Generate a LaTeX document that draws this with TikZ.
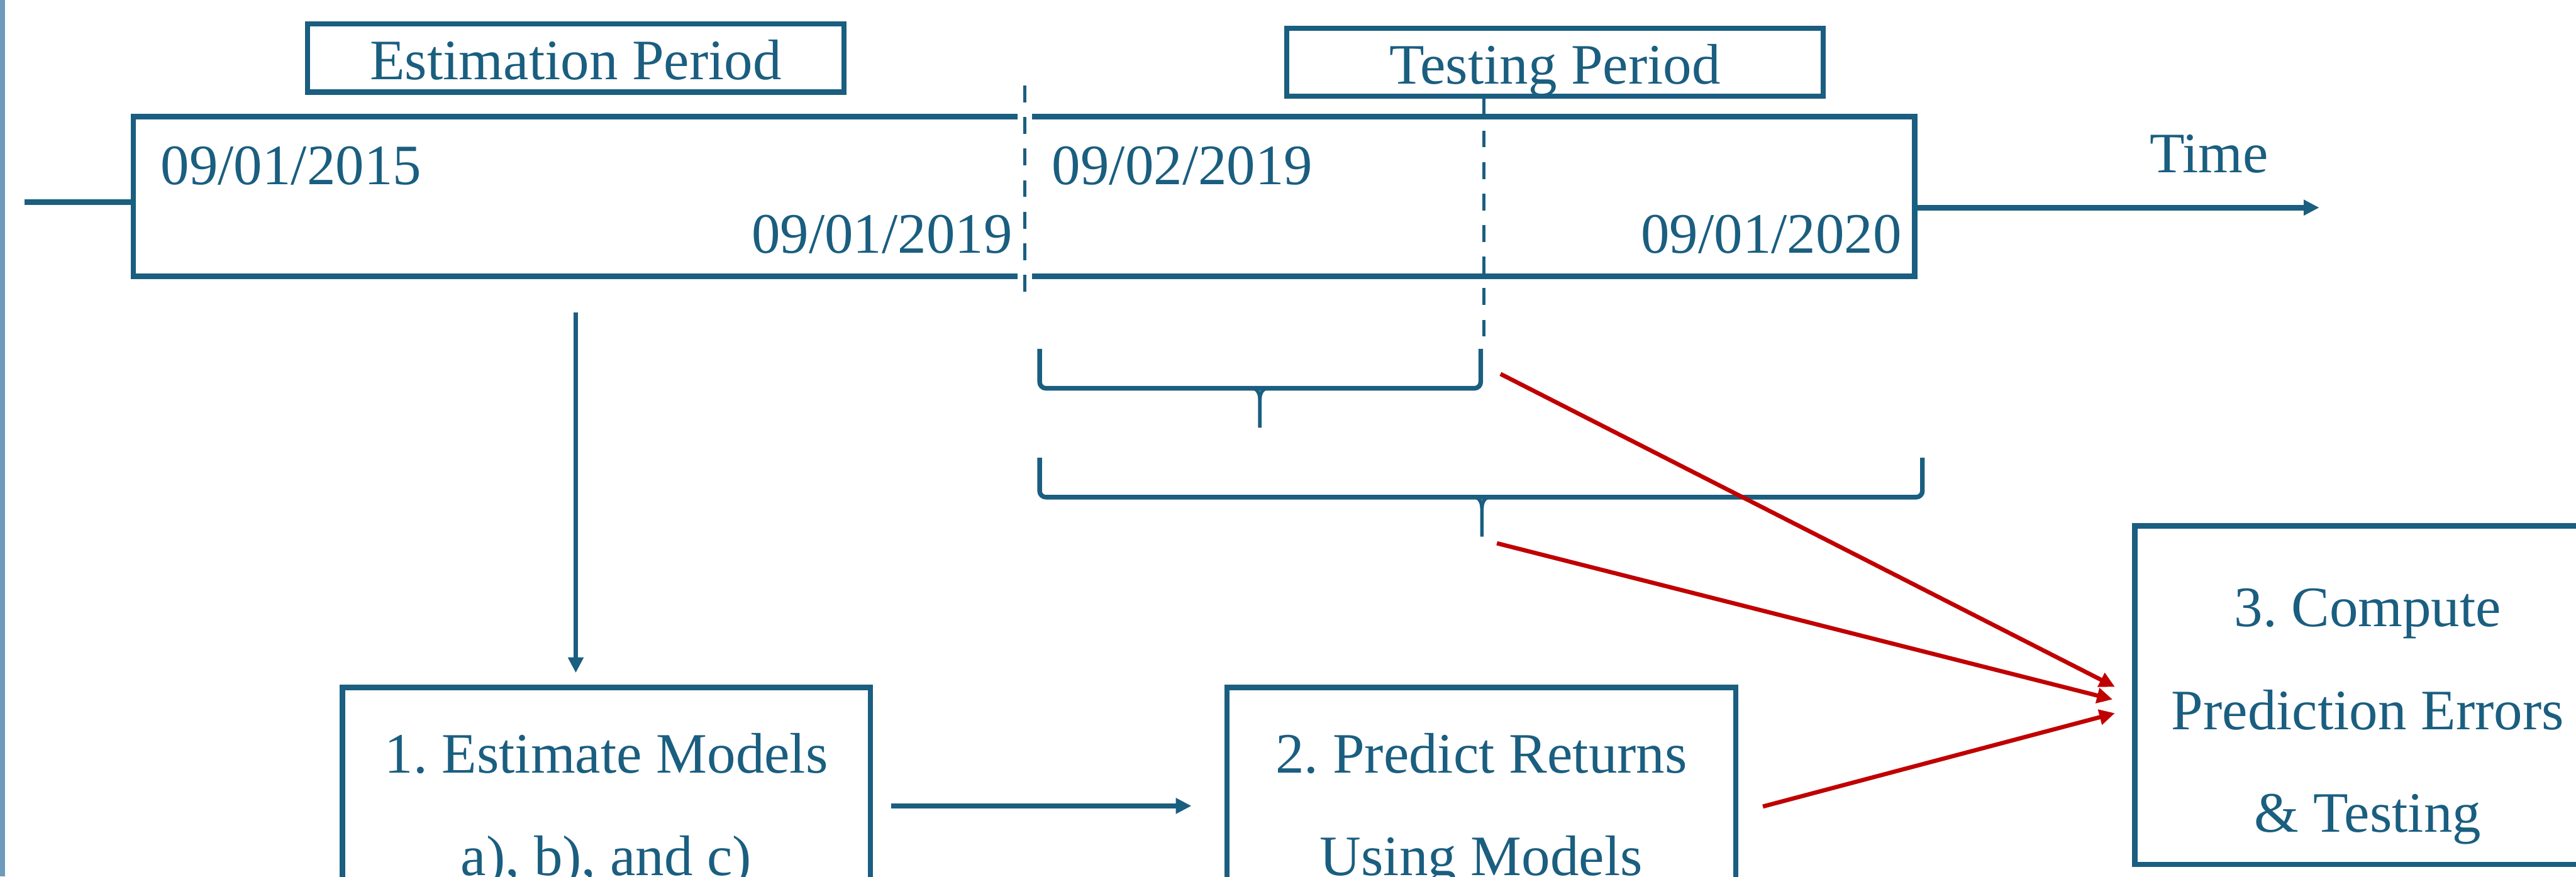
\documentclass[tikz,border=0pt]{standalone}
\usepackage{fontspec}
\setmainfont{Liberation Serif}
\usetikzlibrary{arrows.meta,positioning}
\definecolor{tblue}{RGB}{26,94,128}
\definecolor{tred}{RGB}{192,0,0}
\definecolor{tedge}{RGB}{110,155,188}
\frenchspacing

\begin{document}
\begin{tikzpicture}[>={Triangle[length=0.26cm,width=0.25cm]},
  every node/.style={text=tblue,font=\fontsize{27.2}{48.8}\selectfont},
  period/.style={draw=tblue,line width=2.5pt,minimum width=8.96cm,minimum height=1.14cm,text height=0.72cm,text depth=0pt},
  stage/.style={draw=tblue,line width=2.5pt,minimum height=5.66cm},
  steptext/.style={anchor=north,inner sep=0pt,align=center},
  datetxt/.style={inner sep=0pt},
  link/.style={draw=tblue,line width=2.6pt},
  thinlink/.style={draw=tblue,line width=2.2pt},
  redlink/.style={draw=tred,line width=2pt,->},
  sep/.style={draw=tblue,line width=1.5pt,dash pattern=on 8pt off 7pt},
  brace/.style={draw=tblue,line width=2.2pt,rounded corners=3pt},
  bracetip/.style={draw=tblue,line width=1.7pt}]

\useasboundingbox (0,0) rectangle (43.04,14.65);
\draw[tedge,line width=2.5pt] (0.045,0) -- (0.045,14.65);

\node[period] (estp) at (9.62,13.68) {Estimation Period};
\node[period] (testp) at (25.98,13.61) {Testing Period};
\node[draw=tblue,line width=2.5pt,minimum width=29.76cm,minimum height=2.67cm] (tline) at (17.11,11.365) {};

\node[datetxt,anchor=base west] (d1) at (2.68,11.57) {09/01/2015};
\node[datetxt,anchor=base east] (d2) at (16.92,10.42) {09/01/2019};
\node[datetxt,anchor=base west] (d3) at (17.57,11.57) {09/02/2019};
\node[datetxt,anchor=base east] (d4) at (31.78,10.42) {09/01/2020};
\node[datetxt,anchor=base] (time) at (36.91,11.77) {Time};

\coordinate (tstart) at (0.41,11.27);
\coordinate (tend) at (38.75,11.18);
\draw[link] (tstart) -- (tstart -| tline.west);
\draw[link,->] (tend -| tline.east) -- (tend);

\coordinate (cut1top) at (17.12,13.22);
\coordinate (cut1bot) at (17.12,9.57);
\coordinate (cut2bot) at (24.79,8.90);
\draw[sep,preaction={draw=white,solid,line width=7pt}] (cut1top) -- (cut1bot);
\draw[sep] (cut2bot |- testp.south) -- (cut2bot);

\draw[brace] (17.37,8.82) -- (17.37,8.16) -- (24.74,8.16) -- (24.74,8.82);
\draw[bracetip] (21.05,7.50) -- (21.05,7.98) to[out=90,in=0] (20.92,8.16);
\draw[bracetip] (21.05,7.98) to[out=90,in=180] (21.18,8.16);
\draw[brace] (17.37,7.00) -- (17.37,6.34) -- (32.12,6.34) -- (32.12,7.00);
\draw[bracetip] (24.76,5.68) -- (24.76,6.16) to[out=90,in=0] (24.63,6.34);
\draw[bracetip] (24.76,6.16) to[out=90,in=180] (24.89,6.34);

\node[stage,minimum width=8.82cm] (estim) at (10.13,0.33) {};
\node[stage,minimum width=8.50cm] (predict) at (24.75,0.33) {};
\node[stage,minimum width=7.78cm] (compute) at (39.56,3.03) {};

\node[steptext] (estimtxt) at ([yshift=-0.80cm]estim.north) {1. Estimate Models\\a), b), and c)};
\node[steptext] (predicttxt) at ([yshift=-0.80cm]predict.north) {2. Predict Returns\\Using Models};
\node[steptext] (computetxt) at ([yshift=-1.09cm]compute.north) {3. Compute\\Prediction Errors\\\& Testing};

\coordinate (down) at (9.62,9.43);
\draw[thinlink,->,shorten >=0.20cm] (down) -- (down |- estim.north);
\draw[link,->] ([shift={(0.31,0.85)}]estim.east) -- ([shift={(-0.55,0.85)}]predict.west);

\coordinate (fromshort) at (25.07,8.40);
\coordinate (fromlong) at (25.01,5.57);
\draw[redlink] (fromshort) -- ([shift={(-0.29,0.14)}]compute.west);
\draw[redlink] (fromlong) -- ([shift={(-0.33,-0.07)}]compute.west);
\draw[redlink] ([shift={(0.41,0.84)}]predict.east) -- ([shift={(-0.29,-0.30)}]compute.west);

\end{tikzpicture}
\end{document}
